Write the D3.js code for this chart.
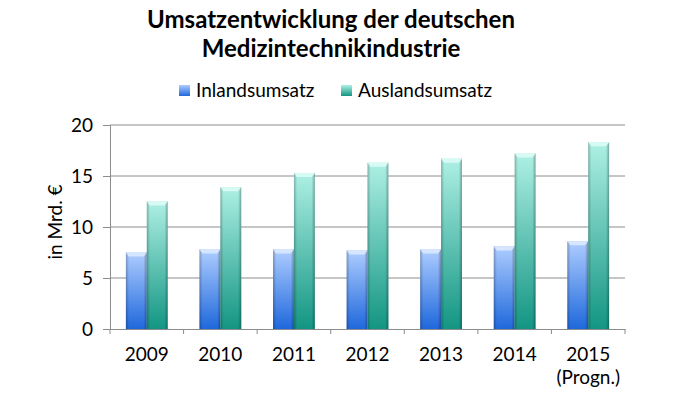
<!DOCTYPE html>
<html>
<head>
<meta charset="utf-8">
<script src="https://cdn.jsdelivr.net/npm/d3@7/dist/d3.min.js"></script>
<style>
  body { margin: 0; background: #fff; }
  svg { display: block; font-family: Lato, "Open Sans", sans-serif; }
</style>
</head>
<body>
<div id="chart"></div>
<script>
// data
var years = ["2009", "2010", "2011", "2012", "2013", "2014", "2015"];
var inland = [7.5, 7.8, 7.8, 7.7, 7.8, 8.1, 8.6];
var ausland = [12.5, 13.9, 15.3, 16.3, 16.7, 17.2, 18.3];
var yTicks = [0, 5, 10, 15, 20];
var seriesNames = ["Inlandsumsatz", "Auslandsumsatz"];

var width = 681, height = 397;
var margin = { top: 125, right: 56, bottom: 68, left: 110 };
var fontSize = "19px";

var svg = d3.select("#chart").append("svg")
  .attr("width", width)
  .attr("height", height);

var defs = svg.append("defs");
function grad(id, top, bottom) {
  var g = defs.append("linearGradient").attr("id", id)
    .attr("x1", 0).attr("y1", 0).attr("x2", 0).attr("y2", 1);
  g.append("stop").attr("offset", "0%").attr("stop-color", top);
  g.append("stop").attr("offset", "100%").attr("stop-color", bottom);
}
grad("gBlue", "#aecdff", "#1f68dc");
grad("gTeal", "#aef0e4", "#139583");
// darker side edges
var side = defs.append("linearGradient").attr("id", "gSide")
  .attr("x1", 0).attr("y1", 0).attr("x2", 1).attr("y2", 0);
side.append("stop").attr("offset", "0%").attr("stop-color", "#000").attr("stop-opacity", 0.25);
side.append("stop").attr("offset", "15%").attr("stop-color", "#000").attr("stop-opacity", 0);
side.append("stop").attr("offset", "85%").attr("stop-color", "#000").attr("stop-opacity", 0);
side.append("stop").attr("offset", "100%").attr("stop-color", "#000").attr("stop-opacity", 0.3);

var x = d3.scaleBand().domain(years)
  .range([margin.left, width - margin.right]);
var inner = d3.scaleBand().domain([0, 1])
  .range([0, x.bandwidth()]).paddingOuter(0.76).paddingInner(0);
var y = d3.scaleLinear().domain([0, 20])
  .range([height - margin.bottom, margin.top]);

// gridlines
svg.append("g").selectAll("line")
  .data(yTicks.slice(1))
  .enter().append("line")
  .attr("x1", margin.left).attr("x2", width - margin.right)
  .attr("y1", function(d) { return y(d); })
  .attr("y2", function(d) { return y(d); })
  .attr("stroke", "#8c8c8c").attr("stroke-width", 1);

// y axis
var yAxis = svg.append("g")
  .attr("transform", "translate(" + margin.left + ",0)")
  .call(d3.axisLeft(y).tickValues(yTicks).tickSize(7).tickPadding(10));
yAxis.select(".domain").attr("stroke", "#8c8c8c");
yAxis.selectAll(".tick line").attr("stroke", "#8c8c8c");
yAxis.selectAll("text").attr("font-size", fontSize).attr("fill", "#000")
  .attr("font-family", "Lato, sans-serif");

// bars
var fills = ["url(#gBlue)", "url(#gTeal)"];
var caps = ["#d6e6ff", "#d8faf4"];
var series = [inland, ausland];
series.forEach(function(vals, si) {
  var g = svg.append("g");
  var bars = g.selectAll("g").data(years).enter().append("g")
    .attr("transform", function(d) { return "translate(" + (x(d) + inner(si)) + ",0)"; });
  var w = inner.bandwidth();
  bars.append("rect")
    .attr("x", 0).attr("width", w)
    .attr("y", function(d, i) { return y(vals[i]); })
    .attr("height", function(d, i) { return y(0) - y(vals[i]); })
    .attr("fill", fills[si]);
  bars.append("rect")
    .attr("x", 0).attr("width", w)
    .attr("y", function(d, i) { return y(vals[i]); })
    .attr("height", function(d, i) { return y(0) - y(vals[i]); })
    .attr("fill", "url(#gSide)");
  // bevelled top
  bars.append("path")
    .attr("d", function(d, i) {
      var t = y(vals[i]);
      return "M0," + t + "L" + w + "," + t + "L" + (w - 3) + "," + (t + 4) + "L3," + (t + 4) + "Z";
    })
    .attr("fill", caps[si]);
});

// x axis
var xAxis = svg.append("g")
  .attr("transform", "translate(0," + y(0) + ")")
  .call(d3.axisBottom(x).tickSize(0).tickPadding(19));
xAxis.select(".domain").attr("stroke", "#8c8c8c");
xAxis.selectAll("text").attr("font-size", fontSize).attr("fill", "#000")
  .attr("font-family", "Lato, sans-serif");
xAxis.selectAll(".tick").filter(function(d) { return d === "2015"; })
  .append("text")
  .attr("y", 42).attr("dy", "0.71em")
  .attr("fill", "#000").attr("font-size", fontSize)
  .attr("font-family", "Lato, sans-serif")
  .text("(Progn.)");
// category separators
var edges = years.map(function(d) { return x(d); }).concat([x.range()[1]]);
xAxis.selectAll(".sep").data(edges).enter().append("line")
  .attr("x1", function(d) { return d; }).attr("x2", function(d) { return d; })
  .attr("y1", 0).attr("y2", 5)
  .attr("stroke", "#8c8c8c");

// y axis title
svg.append("text")
  .attr("transform", "translate(62," + (y(10) - 5) + ") rotate(-90)")
  .attr("text-anchor", "middle")
  .attr("font-size", fontSize)
  .text("in Mrd. €");

// title
var title = svg.append("text")
  .attr("text-anchor", "middle")
  .attr("font-size", "24px").attr("font-weight", "bold");
title.append("tspan").attr("x", 331).attr("y", 28).text("Umsatzentwicklung der deutschen");
title.append("tspan").attr("x", 331).attr("y", 57).text("Medizintechnikindustrie");

// legend
var legendX = [179, 341];
var legend = svg.append("g").selectAll("g").data(seriesNames).enter().append("g")
  .attr("transform", function(d, i) { return "translate(" + legendX[i] + ",85)"; });
legend.append("rect").attr("width", 11).attr("height", 11)
  .attr("fill", function(d, i) { return fills[i]; });
legend.append("text").attr("x", 17).attr("y", 12)
  .attr("font-size", fontSize)
  .text(function(d) { return d; });
</script>
</body>
</html>
